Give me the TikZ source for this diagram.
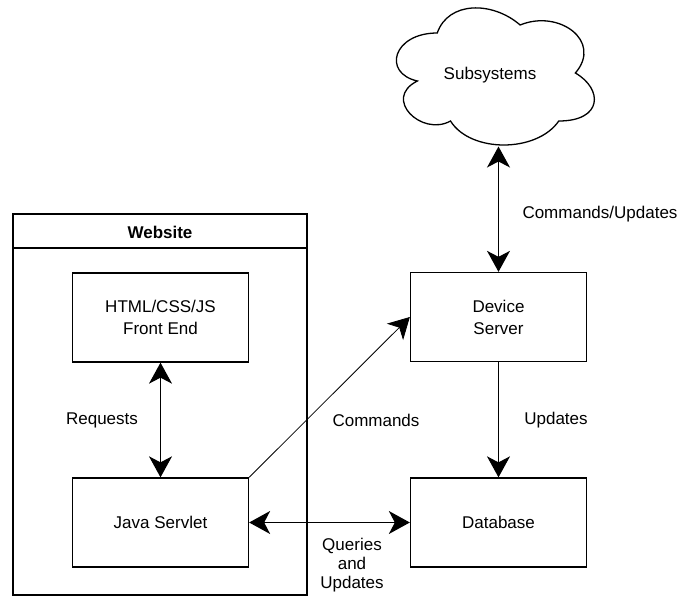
\documentclass[tikz,border=0pt]{standalone}
\usepackage{fontspec}
\setmainfont{Liberation Sans}
\usetikzlibrary{arrows.meta}

\tikzset{
  box/.style={draw, line width=1.3pt, minimum width=176pt, minimum height=89pt,
              inner sep=0pt, align=center, font=\fontsize{17}{22}\selectfont},
  lbl/.style={inner sep=0pt, align=center, font=\fontsize{17}{19}\selectfont},
  tip/.style={Stealth[length=21pt,width=23pt,inset=6pt]},
  link/.style={line width=1.2pt, {Stealth[length=21pt,width=23pt,inset=6pt]}-{Stealth[length=21pt,width=23pt,inset=6pt]}},
  onelink/.style={line width=1.2pt, -{Stealth[length=21pt,width=23pt,inset=6pt]}},
  thinlink/.style={line width=0.8pt, -{Stealth[length=21pt,width=23pt,inset=6pt]}},
}

\begin{document}
\begin{tikzpicture}[x=1pt, y=-1pt]
  \useasboundingbox (0,0) rectangle (681,599);

  % Subsystems cloud
  \begin{scope}[shift={(382,-7)}, x=221pt, y=-160pt, line width=1.3pt]
    \draw[fill=white] (0.25,0.25)
      .. controls (0.05,0.25) and (0,0.5) .. (0.16,0.55)
      .. controls (0,0.66) and (0.18,0.9) .. (0.31,0.8)
      .. controls (0.4,1) and (0.7,1) .. (0.8,0.8)
      .. controls (1,0.8) and (1,0.6) .. (0.875,0.5)
      .. controls (1,0.3) and (0.8,0.1) .. (0.625,0.2)
      .. controls (0.5,0.05) and (0.3,0.05) .. (0.25,0.25) -- cycle;
  \end{scope}
  \node[lbl] (subsys) at (490,75) {Subsystems};
  \coordinate (cloudbot) at (498.5,146.5);

  % Website container with title bar
  \draw[line width=1.3pt] (13,214) rectangle (307,595);
  \draw[line width=1.3pt] (13,248) -- (307,248);
  \node[lbl, font=\fontsize{17}{19}\bfseries] (website) at (160,232) {Website};

  % Components
  \node[box] (front)   at (160.5,317.5) {HTML/CSS/JS\\Front End};
  \node[box] (servlet) at (160.5,522.5) {Java Servlet};
  \node[box] (device)  at (498.5,317)   {Device\\Server};
  \node[box] (db)      at (498.5,522.5) {Database};

  % Connectors
  \draw[link] (cloudbot) -- (device.north);
  \draw[link] (front.south) -- (servlet.north);
  \draw[link] (servlet.east) -- (db.west);
  \draw[thinlink] (servlet.north east) -- (device.west);
  \draw[onelink] (device.south) -- (db.north);

  % Connector labels
  \node[lbl] (lcu)  at (600,214) {Commands/Updates};
  \node[lbl] (lreq) at (102,420) {Requests};
  \node[lbl] (lcmd) at (376,420) {Commands};
  \node[lbl] (lupd) at (556,420) {Updates};
  \node[lbl] (lqu)  at (352,565) {Queries\\and\\Updates};
\end{tikzpicture}
\end{document}
